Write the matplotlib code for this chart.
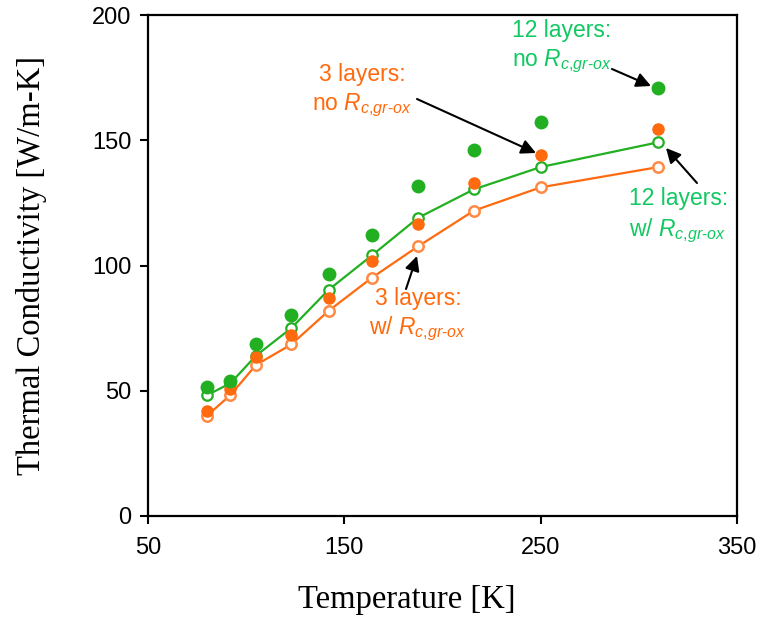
import matplotlib
matplotlib.use("Agg")
import matplotlib.pyplot as plt

plt.rcParams['mathtext.fontset'] = 'custom'
plt.rcParams['mathtext.it'] = 'Liberation Sans:italic'
plt.rcParams['mathtext.rm'] = 'Liberation Sans'
plt.rcParams['mathtext.bf'] = 'Liberation Sans:bold'

# ---- data ----
temperature = [80, 92, 105, 123, 142, 164, 187.5, 216, 250, 310]
green_no_rc = [51.5, 54.0, 68.5, 80.2, 96.8, 112.2, 131.6, 146.3, 157.2, 170.7]
green_w_rc = [48.2, 53.0, 64.0, 75.0, 90.3, 104.0, 119.0, 130.4, 139.3, 149.2]
orange_no_rc = [41.9, 50.6, 63.4, 72.3, 86.9, 101.8, 116.7, 132.8, 144.0, 154.4]
orange_w_rc = [40.0, 48.3, 60.3, 68.5, 81.9, 95.1, 107.6, 121.9, 131.2, 139.3]

GREEN = '#22B022'
GREEN_TXT = '#12C862'
ORANGE = '#FF6A0E'
ORANGE_LIGHT = '#FF8A45'

fig = plt.figure(figsize=(7.58, 6.19), dpi=100)
W, H = 758, 619
L, R, T, B = 148, 737, 15, 516
ax = fig.add_axes([L / W, 1 - B / H, (R - L) / W, (B - T) / H])

ax.plot(temperature, green_w_rc, '-', color=GREEN, lw=1.6, marker='o', ms=7.5,
        mfc='white', mec=GREEN, mew=1.6, zorder=3)
ax.plot(temperature, orange_w_rc, '-', color=ORANGE, lw=1.6, marker='o', ms=7.5,
        mfc='white', mec=ORANGE_LIGHT, mew=1.8, zorder=3)
ax.errorbar(temperature, orange_no_rc, yerr=1.5, fmt='o', color=ORANGE, ms=8,
            mec=ORANGE, ecolor=ORANGE, elinewidth=1.3, capsize=2.5, capthick=1.3, zorder=4)
ax.plot(temperature, green_no_rc, 'o', color=GREEN, ms=9, mec=GREEN, zorder=5)

ax.set_xlim(50, 350)
ax.set_ylim(0, 200)
ax.set_xticks([50, 150, 250, 350])
ax.set_yticks([0, 50, 100, 150, 200])
ax.tick_params(direction='out', length=6, width=1.5, labelsize=17, pad=6)
ax.tick_params(axis='x', pad=9)
for lab in ax.get_xticklabels() + ax.get_yticklabels():
    lab.set_family('Liberation Sans')
for sp in ax.spines.values():
    sp.set_linewidth(1.6)

ax.set_xlabel('Temperature [K]', family='Liberation Serif', fontsize=23.5)
ax.xaxis.set_label_coords((407 - L) / (R - L), -(600 - B) / (B - T), transform=ax.transAxes)
ax.xaxis.label.set_va('center')
ax.set_ylabel('Thermal Conductivity [W/m-K]', family='Liberation Serif', fontsize=23.5)
ax.yaxis.set_label_coords(-(L - 32) / (R - L), 0.5, transform=ax.transAxes)
ax.yaxis.label.set_va('center')


def pf(px, py):
    return ((px - L) / (R - L), (B - py) / (B - T))


def label(lines, color, ha, anchor_x, ys):
    for text, y in zip(lines, ys):
        ax.text(*pf(anchor_x, y), text, transform=ax.transAxes, color=color,
                fontsize=16.5, family='Liberation Sans', ha=ha, va='center')


def arrow(tail, head):
    ax.annotate('', xy=pf(*head), xycoords='axes fraction',
                xytext=pf(*tail), textcoords='axes fraction',
                arrowprops=dict(arrowstyle='-|>', color='black', lw=1.5,
                                mutation_scale=22, shrinkA=0, shrinkB=0))


sub = r'$R_{c{,}gr\text{-}ox}$'
label(['12 layers:', 'no ' + sub], GREEN_TXT, 'left', 512, [31, 61])
arrow((612, 69), (651, 86))
label(['3 layers:', 'no ' + sub], ORANGE, 'center', 362, [74, 105])
arrow((417, 99), (536, 153))
label(['12 layers:', 'w/ ' + sub], GREEN_TXT, 'left', 629, [199, 231])
arrow((697, 183), (666, 148))
label(['3 layers:', 'w/ ' + sub], ORANGE, 'center', 418, [298, 329])
arrow((406, 289), (417, 256))

fig.savefig('out.png', dpi=100)
